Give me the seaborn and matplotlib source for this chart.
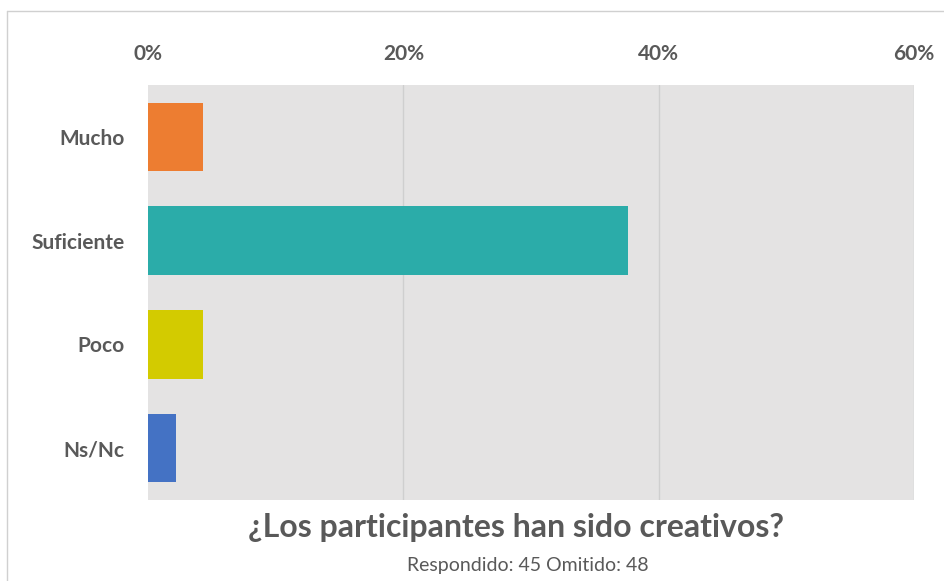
import pandas as pd
import matplotlib.pyplot as plt
import seaborn as sns
from matplotlib.lines import Line2D
from matplotlib.ticker import PercentFormatter

# Data
categorias = ['Mucho', 'Suficiente', 'Poco', 'Ns/Nc']
porcentajes = [4.3, 37.6, 4.3, 2.2]
colores = ['#ED7D31', '#2BACA9', '#D3CB00', '#4472C4']
ticks_x = [0, 20, 40, 60]

titulo = '¿Los participantes han sido creativos?'
subtitulo = 'Respondido: 45 Omitido: 48'

df = pd.DataFrame({'categoria': categorias, 'pct': porcentajes})

sns.set_style('white')
plt.rcParams['font.family'] = ['Lato', 'DejaVu Sans']

fig = plt.figure(figsize=(9.44, 5.81), dpi=100)
ax = fig.add_axes([148 / 944, 1 - 500 / 581, 766 / 944, 415 / 581])

sns.barplot(data=df, y='categoria', x='pct', hue='categoria', palette=colores,
            order=categorias, legend=False, width=0.66, saturation=1,
            linewidth=0, ax=ax)

ax.set_facecolor('#E4E3E3')
ax.set_xlim(0, 60)
ax.set_ylim(3.5, -0.5)
ax.set_xticks(ticks_x)
ax.xaxis.set_major_formatter(PercentFormatter(decimals=0))
ax.xaxis.tick_top()
ax.grid(axis='x', color='#CFCFCF', linewidth=1)
ax.get_xgridlines()[0].set_visible(False)
ax.set_axisbelow(True)
for s in ax.spines.values():
    s.set_visible(False)
ax.tick_params(axis='both', length=0, labelcolor='#595959', labelsize=15)
ax.tick_params(axis='x', pad=15)
ax.tick_params(axis='y', pad=17)
for lbl in ax.get_xticklabels() + ax.get_yticklabels():
    lbl.set_fontweight('bold')
ax.set_xlabel('')
ax.set_ylabel('')

fig.text(516 / 944, 1 - 527 / 581, titulo, ha='center', va='center',
         fontsize=23, fontweight='bold', color='#595959')
fig.text(528 / 944, 1 - 565 / 581, subtitulo, ha='center', va='center',
         fontsize=14, color='#595959')

# thin frame of the screenshot
fig.add_artist(Line2D([7 / 944, 1], [1 - 11 / 581] * 2, color='#D0D0D0', lw=1))
fig.add_artist(Line2D([7 / 944] * 2, [0, 1 - 11 / 581], color='#D0D0D0', lw=1))

fig.savefig('out.png', dpi=100)
